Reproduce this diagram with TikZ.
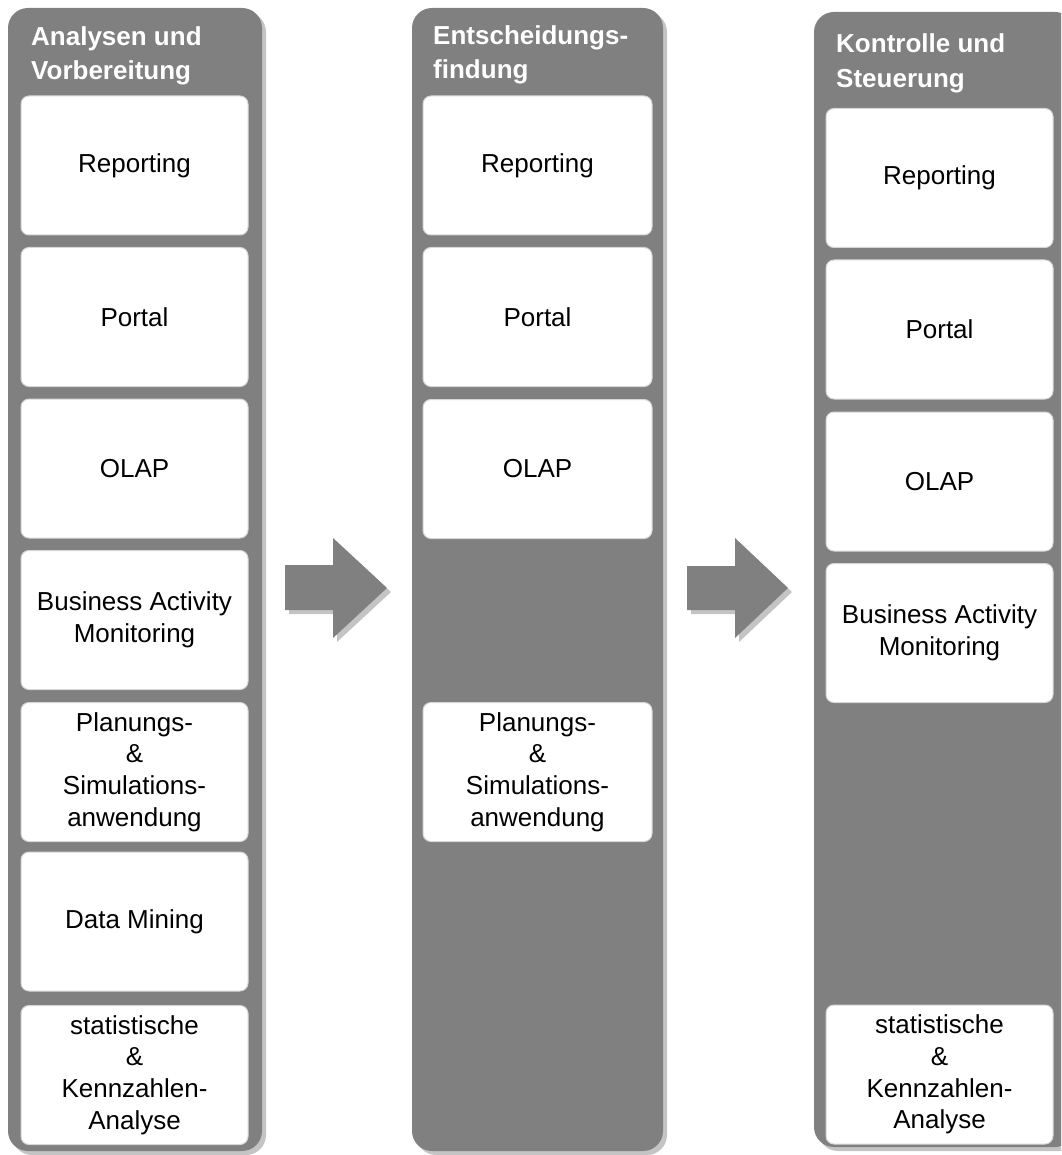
\documentclass[tikz,border=0pt]{standalone}
\usepackage{fontspec}
\setmainfont{Liberation Sans}
\definecolor{colgray}{HTML}{808080}
\definecolor{shadowgray}{HTML}{C4C4C4}
\definecolor{boxline}{HTML}{D6D6D6}
\begin{document}
\begin{tikzpicture}[x=1pt,y=-1pt,
  colfill/.style={fill=colgray, rounded corners=20pt},
  colshadow/.style={fill=shadowgray, rounded corners=20pt},
  tool/.style={draw=boxline, line width=1pt, fill=white, rounded corners=8pt,
    minimum height=139pt, inner sep=0pt, align=center, text=black,
    font=\fontsize{26}{31.7}\selectfont},
  coltitle/.style={anchor=north west, inner sep=0pt, align=left, text=white,
    font=\fontsize{26}{34.5}\selectfont\bfseries},
  blockarrow/.style={fill=colgray},
  arrowshadow/.style={fill=shadowgray}]
\useasboundingbox (0,0) rectangle (1061,1155);
\clip (0,0) rectangle (1061,1155);

% three phase columns with drop shadows
\fill[colshadow] (12,12) rectangle (266,1155);
\fill[colfill] (8,8) rectangle (262,1151);
\fill[colshadow] (416,12) rectangle (667,1155);
\fill[colfill] (412,8) rectangle (663,1151);
\fill[colshadow] (818,16) rectangle (1079,1151);
\fill[colfill] (814,12) rectangle (1075,1147);

% column headings
\node[coltitle] (t1) at (31,26) {Analysen und\\Vorbereitung};
\node[coltitle] (t2) at (433,25) {Entscheidungs-\\findung};
\node[coltitle] (t3) at (836,33.5) {Kontrolle und\\Steuerung};

% block arrows between the phases
\fill[arrowshadow, shift={(4,4)}] (285,565) -- (333,565) -- (333,538) -- (387,588)
  -- (333,638) -- (333,610) -- (285,610) -- cycle;
\fill[blockarrow] (285,565) -- (333,565) -- (333,538) -- (387,588)
  -- (333,638) -- (333,610) -- (285,610) -- cycle;
\fill[arrowshadow, shift={(4,4)}] (687,566) -- (735,566) -- (735,538) -- (788,588)
  -- (735,638) -- (735,610) -- (687,610) -- cycle;
\fill[blockarrow] (687,566) -- (735,566) -- (735,538) -- (788,588)
  -- (735,638) -- (735,610) -- (687,610) -- cycle;

% first column
\begin{scope}[every node/.append style={minimum width=227pt}]
\node[tool] (a1) at (134.5,165.5) {Reporting};
\node[tool] (a2) at (134.5,317) {Portal};
\node[tool] (a3) at (134.5,468.5) {OLAP};
\node[tool] (a4) at (134.5,620) {Business Activity\\Monitoring};
\node[tool] (a5) at (134.5,772) {Planungs-\\\&\\Simulations-\\anwendung};
\node[tool] (a6) at (134.5,921.5) {Data Mining};
\node[tool] (a7) at (134.5,1075) {statistische\\\&\\Kennzahlen-\\Analyse};
\end{scope}

% second column
\begin{scope}[every node/.append style={minimum width=229pt}]
\node[tool] (b1) at (537.5,165.5) {Reporting};
\node[tool] (b2) at (537.5,317) {Portal};
\node[tool] (b3) at (537.5,469) {OLAP};
\node[tool] (b4) at (537.5,772) {Planungs-\\\&\\Simulations-\\anwendung};
\end{scope}

% third column
\begin{scope}[every node/.append style={minimum width=227pt}]
\node[tool] (c1) at (939.5,178) {Reporting};
\node[tool] (c2) at (939.5,329.5) {Portal};
\node[tool] (c3) at (939.5,481.5) {OLAP};
\node[tool] (c4) at (939.5,633) {Business Activity\\Monitoring};
\node[tool] (c5) at (939.5,1074.5) {statistische\\\&\\Kennzahlen-\\Analyse};
\end{scope}
\end{tikzpicture}
\end{document}
